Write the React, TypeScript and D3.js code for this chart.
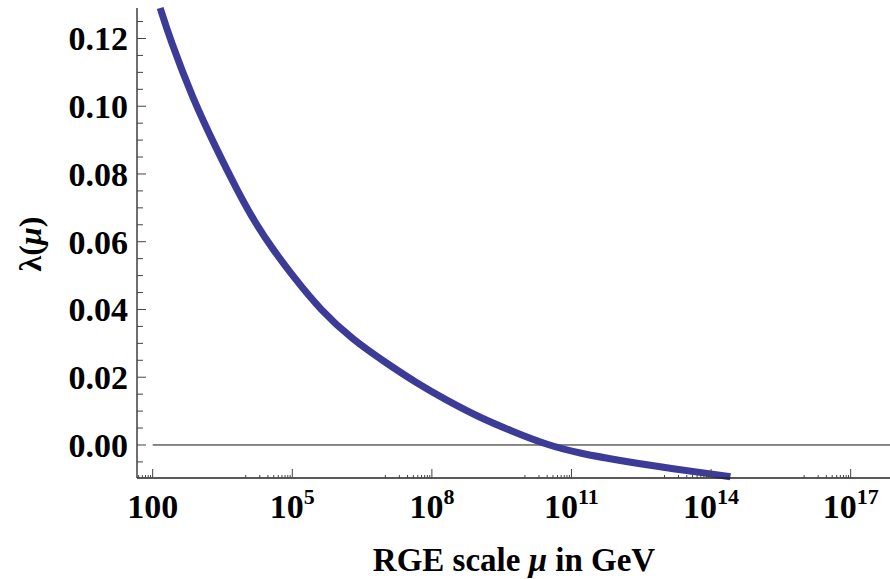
import * as d3 from "d3";

// RGE running of the Higgs quartic coupling
const muValues = [
  1.45e2, 2.34e2, 7.1e2, 2.4e3, 6.5e3, 1.6e4, 3.9e4, 1.05e5, 4.0e5, 2.0e6,
  1.07e7, 4.8e7, 2.0e8, 1.1e9, 5.0e9, 2.95e10, 1.55e11, 1.12e12, 8.1e12,
  9.5e13, 2.6e14,
];
const lambdaValues = [
  0.129, 0.12, 0.1025, 0.0871, 0.0753, 0.0655, 0.0576, 0.0497, 0.0399, 0.031,
  0.0241, 0.0182, 0.0133, 0.008, 0.0042, 0.0, -0.0025, -0.0046, -0.0065,
  -0.0085, -0.0094,
];

const xMajorExps = [2, 5, 8, 11, 14, 17];
const yMajorTicks = [0.0, 0.02, 0.04, 0.06, 0.08, 0.1, 0.12];
const yMinorTicks = [
  -0.005, 0.005, 0.01, 0.015, 0.025, 0.03, 0.035, 0.045, 0.05, 0.055, 0.065,
  0.07, 0.075, 0.085, 0.09, 0.095, 0.105, 0.11, 0.115, 0.125,
];

const W = 890,
  H = 579,
  left = 137,
  right = 890,
  top = 8,
  bottom = 478,
  font = "'Liberation Serif', 'Times New Roman', serif",
  lineColor = "#3c3c98";

export default function App() {
  const x = d3
    .scaleLog()
    .domain([Math.pow(10, 1.663), Math.pow(10, 17.845)])
    .range([left, right]);
  const y = d3.scaleLinear().domain([-0.00975, 0.129]).range([bottom, top]);

  const data = muValues.map((m, i) => [m, lambdaValues[i]] as [number, number]);
  // basis spline smooths out reading noise between the points
  const line = d3
    .line<[number, number]>()
    .x((d) => x(d[0]))
    .y((d) => y(d[1]))
    .curve(d3.curveBasis);

  const xMinor: number[] = [];
  xMajorExps.forEach((e) => {
    for (let k = 1; k <= 9; k++) {
      const v = k * Math.pow(10, e - 1);
      if (x(v) >= left && x(v) <= right) xMinor.push(v);
    }
  });

  return (
    <div style={{ position: "absolute", left: 0, top: 0 }}>
      <svg width={W} height={H} style={{ display: "block" }}>
        <rect width={W} height={H} fill="#fff" />

        {/* zero line */}
        <line
          x1={x(100)}
          x2={right}
          y1={y(0)}
          y2={y(0)}
          stroke="#111"
          strokeWidth={1}
        />

        {/* curve */}
        <path
          d={line(data) || ""}
          fill="none"
          stroke={lineColor}
          strokeWidth={7}
          strokeLinecap="butt"
        />

        {/* axes */}
        <line x1={left} x2={left} y1={top} y2={bottom} stroke="#222" strokeWidth={1.3} />
        <line x1={left} x2={right} y1={bottom} y2={bottom} stroke="#222" strokeWidth={1.3} />

        {/* y ticks */}
        {yMinorTicks.map((t) => (
          <line key={"ym" + t} x1={left} x2={left + 6} y1={y(t)} y2={y(t)} stroke="#444" strokeWidth={1} />
        ))}
        {yMajorTicks.map((t) => (
          <g key={"y" + t}>
            <line x1={left} x2={left + 9} y1={y(t)} y2={y(t)} stroke="#444" strokeWidth={1} />
            <text
              x={128}
              y={y(t) + 12}
              textAnchor="end"
              fontFamily={font}
              fontWeight="bold"
              fontSize={34}
              fill="#000"
            >
              {t.toFixed(2)}
            </text>
          </g>
        ))}

        {/* x ticks */}
        {xMinor.map((v, i) => (
          <line key={"xm" + i} x1={x(v)} x2={x(v)} y1={bottom} y2={bottom - 3} stroke="#444" strokeWidth={1} />
        ))}
        {xMajorExps.map((e) => {
          const v = Math.pow(10, e);
          return (
            <g key={"x" + e}>
              <line x1={x(v)} x2={x(v)} y1={bottom} y2={bottom - 9} stroke="#444" strokeWidth={1} />
              <text
                x={x(v)}
                y={518}
                textAnchor="middle"
                fontFamily={font}
                fontWeight="bold"
                fontSize={34}
                fill="#000"
              >
                {e === 2 ? (
                  "100"
                ) : (
                  <>
                    10
                    <tspan fontSize={22} dy={-14}>
                      {e}
                    </tspan>
                  </>
                )}
              </text>
            </g>
          );
        })}

        {/* axis titles */}
        <text
          x={514}
          y={571}
          textAnchor="middle"
          fontFamily={font}
          fontWeight="bold"
          fontSize={33}
          fill="#000"
        >
          RGE scale <tspan fontStyle="italic">μ</tspan> in GeV
        </text>
        <text
          transform={`translate(41,${244}) rotate(-90)`}
          textAnchor="middle"
          fontFamily={font}
          fontWeight="bold"
          fontSize={32}
          fill="#000"
        >
          λ(<tspan fontStyle="italic">μ</tspan>)
        </text>
      </svg>
    </div>
  );
}
